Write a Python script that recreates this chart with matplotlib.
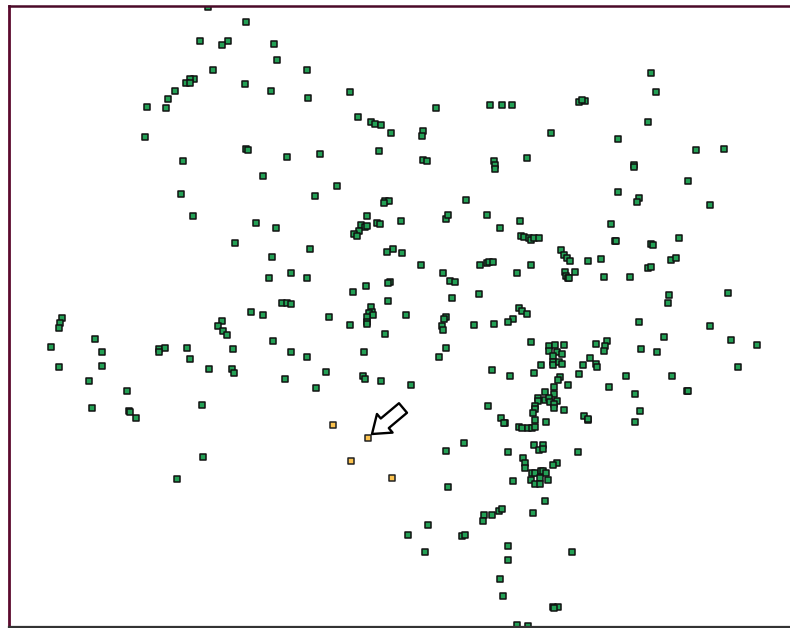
import matplotlib
matplotlib.use('Agg')
import matplotlib.pyplot as plt

# sites in image pixels
green_x = [208,246,200,228,222,274,277,213,307,194,190,186,190,245,175,168,271,308,350,147,
           166,358,371,375,381,391,436,490,502,512,579,585,582,651,656,648,618,551,145,246,
           248,183,287,320,379,423,422,423,427,494,495,495,527,634,634,696,724,263,337,688,618,
           639,637,710,181,315,385,389,384,466,193,256,276,367,361,365,367,377,380,359,354,
           357,401,446,448,487,500,520,611,235,310,521,524,529,531,534,539,615,616,651,653,
           679,393,387,402,272,561,564,567,570,588,601,671,676,421,480,487,489,493,531,517,
           291,269,307,443,450,455,565,566,568,569,575,604,630,648,651,390,388,366,353,479,
           452,669,668,728,388,282,287,291,251,263,329,371,372,369,373,367,367,367,406,446,
           444,519,522,527,513,508,494,474,442,443,350,62,60,59,222,218,223,227,385,639,
           710,664,731,95,273,51,102,159,165,159,187,190,233,291,307,364,446,439,
           531,549,555,564,549,557,562,553,553,553,559,562,541,534,510,560,558,554,568,545,
           554,538,545,549,557,550,538,554,554,535,535,533,564,535,546,584,588,588,519,522,
           528,532,535,501,505,534,543,539,543,508,578,523,525,525,557,553,532,535,541,543,
           546,531,540,548,535,540,513,545,596,607,605,604,590,583,596,597,579,609,
           641,657,738,757,626,672,635,687,688,640,635,59,102,89,127,92,129,130,136,202,
           209,232,234,285,316,326,363,365,381,411,492,488,504,464,446,203,177,448,533,484,
           483,492,499,502,428,408,462,465,425,508,572,508,500,503,553,558,554,517,528]
green_y = [7,22,41,41,45,44,60,70,70,79,79,83,83,84,91,99,91,98,92,107,
           108,117,122,124,125,133,108,105,105,105,102,101,100,73,92,122,139,133,137,149,
           150,161,157,154,151,131,136,160,161,161,165,169,158,165,167,150,149,176,186,181,192,
           198,202,205,194,196,201,201,203,200,216,223,228,216,225,227,226,223,224,231,234,
           236,221,219,215,215,228,221,224,243,249,236,237,238,240,238,238,241,241,244,245,
           238,249,252,253,257,250,255,258,261,261,259,260,258,265,265,263,262,262,265,273,
           273,278,278,273,281,282,272,276,278,278,272,277,277,268,267,282,283,286,292,294,
           298,295,303,293,301,303,303,304,312,315,317,307,312,313,315,317,322,324,315,317,
           319,308,311,314,319,322,324,325,326,330,325,318,323,328,321,326,331,335,334,322,
           326,337,340,339,341,347,352,349,348,352,348,359,349,352,357,352,348,357,
           342,346,345,345,351,352,354,356,362,365,362,364,365,373,376,377,380,387,385,392,
           394,398,400,398,401,402,401,404,408,406,409,413,410,420,422,416,420,419,427,428,
           428,428,427,418,423,445,445,450,449,452,452,458,463,468,463,465,473,473,471,471,
           473,480,478,480,484,484,481,501,344,341,346,351,358,365,364,367,374,387,
           349,352,367,345,376,376,394,391,391,411,422,367,366,381,391,408,411,412,418,405,
           369,369,373,379,388,372,376,379,381,385,370,406,423,443,451,457,479,487,513,515,
           521,515,511,509,525,535,536,535,552,546,552,560,579,596,607,607,608,625,626]

orange_x = [333,368,351,392]
orange_y = [425,438,461,478]

fig = plt.figure(figsize=(7.9, 6.28), dpi=100)
ax = fig.add_axes([8.5/790, 1/628, 781.5/790, 621/628])
ax.set_xlim(8.5, 790)
ax.set_ylim(627, 6)

ax.scatter(green_x, green_y, marker='s', s=21, c='#23a055', edgecolors='#111111', linewidths=1.1)
ax.scatter(orange_x, orange_y, marker='s', s=21, c='#fcc34f', edgecolors='#222222', linewidths=1.1)

# arrow pointing at the orange sites
ax.annotate('', xy=(372, 434), xytext=(403, 408),
            arrowprops=dict(arrowstyle='simple,head_length=1.2,head_width=1.75,tail_width=0.9',
                            fc='white', ec='black', lw=1.7, shrinkA=0, shrinkB=0))

ax.set_xticks([])
ax.set_yticks([])
ax.spines['right'].set_visible(False)
ax.spines['left'].set_color('#5c0a2e')
ax.spines['left'].set_linewidth(2)
ax.spines['top'].set_color('#4a0a28')
ax.spines['top'].set_linewidth(1.8)
ax.spines['bottom'].set_color('#333333')
ax.spines['bottom'].set_linewidth(1.6)

fig.savefig('out.png', dpi=100)
